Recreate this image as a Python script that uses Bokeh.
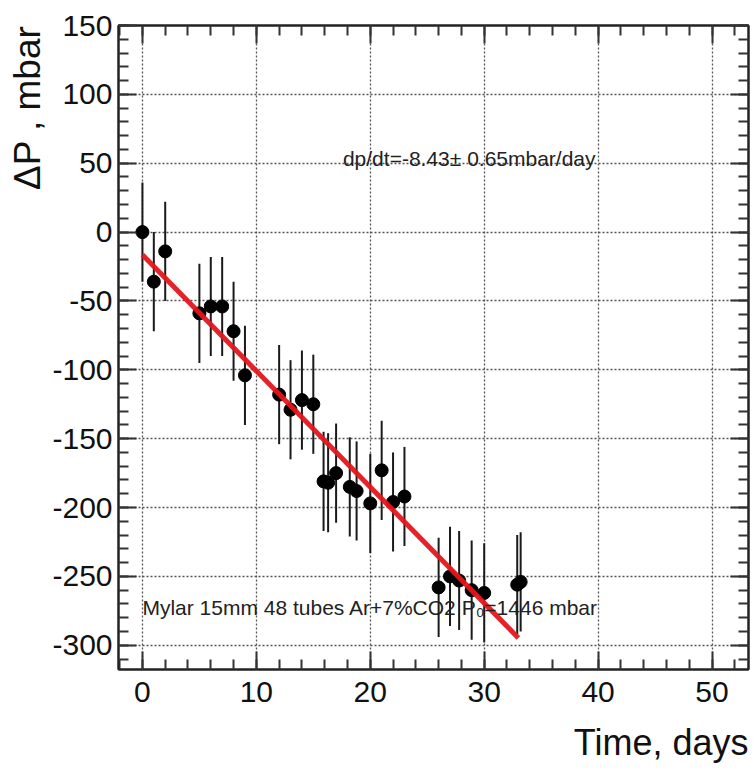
import math
from bokeh.plotting import figure
from bokeh.models import (Range1d, SingleIntervalTicker, LinearAxis, Label,
                          CustomJSTickFormatter, Grid, Title)
from bokeh.embed import file_html
from bokeh.resources import INLINE

# ---- data ----
days = [0, 1, 2, 5, 6, 7, 8, 9, 12, 13, 14, 15, 15.9, 16.3, 17, 18.2, 18.8,
        20, 21, 22, 23, 26, 27, 27.8, 28.9, 30, 32.9, 33.2]
dp = [0, -36, -14, -59, -54, -54, -72, -104, -118, -129, -122, -125, -181, -182,
      -175, -185, -188, -197, -173, -196, -192, -258, -250, -253, -260, -262,
      -256, -254]
err = [36] * len(days)

fit_slope = -8.43
fit_intercept = -16.5
fit_range = [0, 33]

x_ticks_interval = 10
y_ticks_interval = 50

FONT = "Liberation Sans"

p = figure(width=754, height=781, output_backend="svg", toolbar_location=None,
           x_range=Range1d(-2.1, 53.2), y_range=Range1d(-317.6, 150),
           min_border_left=118, min_border_right=6, min_border_top=25,
           min_border_bottom=112, x_axis_type=None, y_axis_type=None)
p.background_fill_color = "white"
p.border_fill_color = "white"
p.outline_line_color = "#222222"
p.outline_line_width = 2


def style_axis(ax, show_labels):
    ax.major_tick_in = 18
    ax.major_tick_out = 0
    ax.minor_tick_in = 10
    ax.minor_tick_out = 0
    ax.axis_line_color = "#222222"
    ax.axis_line_width = 2
    ax.major_tick_line_color = "#333333"
    ax.major_tick_line_width = 2
    ax.minor_tick_line_color = "#333333"
    ax.minor_tick_line_width = 2
    ax.major_label_text_font = FONT
    ax.major_label_text_font_size = "30px"
    ax.major_label_text_color = "#111111"
    if show_labels:
        ax.formatter = CustomJSTickFormatter(code="return String(tick)")
    else:
        ax.formatter = CustomJSTickFormatter(code="return ''")
        ax.major_label_standoff = 0


xb = LinearAxis(ticker=SingleIntervalTicker(interval=x_ticks_interval, num_minor_ticks=5))
style_axis(xb, True)
xb.major_label_standoff = 12
p.add_layout(xb, "below")

yl = LinearAxis(ticker=SingleIntervalTicker(interval=y_ticks_interval, num_minor_ticks=5))
style_axis(yl, True)
yl.major_label_standoff = 6
p.add_layout(yl, "left")

xt = LinearAxis(ticker=SingleIntervalTicker(interval=x_ticks_interval, num_minor_ticks=5))
style_axis(xt, False)
p.add_layout(xt, "above")

yr = LinearAxis(ticker=SingleIntervalTicker(interval=y_ticks_interval, num_minor_ticks=5))
style_axis(yr, False)
p.add_layout(yr, "right")

# axis titles placed outside the axes
xtitle = Title(text="Time, days", align="right", text_font=FONT,
               text_font_size="36px", text_font_style="normal",
               text_color="#111111", standoff=30)
p.add_layout(xtitle, "below")
ytitle = Title(text="\u0394P , mbar", align="right", text_font=FONT,
               text_font_size="37px", text_font_style="normal",
               text_color="#111111", standoff=4)
p.add_layout(ytitle, "left")

p.add_layout(Grid(dimension=0, ticker=xb.ticker, grid_line_color="#555555",
                  grid_line_dash="2 2", grid_line_width=1.3))
p.add_layout(Grid(dimension=1, ticker=yl.ticker, grid_line_color="#555555",
                  grid_line_dash="2 2", grid_line_width=1.3))

# error bars
lo = [v - e for v, e in zip(dp, err)]
hi = [v + e for v, e in zip(dp, err)]
p.segment(x0=days, y0=lo, x1=days, y1=hi, line_color="#1a1a1a", line_width=2)

# points
p.scatter(days, dp, size=13, fill_color="black", line_color="black")

# fit line
fit_y = [fit_intercept + fit_slope * x for x in fit_range]
p.line(fit_range, fit_y, line_color="#e3161c", line_width=5, line_alpha=0.95)

# texts
p.add_layout(Label(x=17.6, y=53.7, text="dp/dt=-8.43\u00b1 0.65mbar/day",
                   text_font=FONT, text_font_size="21px", text_color="#222222",
                   text_baseline="alphabetic"))
p.add_layout(Label(x=0.0, y=-272.6, text="Mylar 15mm 48 tubes Ar+7%CO2 P\u2080=1446 mbar",
                   text_font=FONT, text_font_size="21px", text_color="#222222",
                   text_baseline="alphabetic"))

open("out.html", "w").write(file_html(p, INLINE))
